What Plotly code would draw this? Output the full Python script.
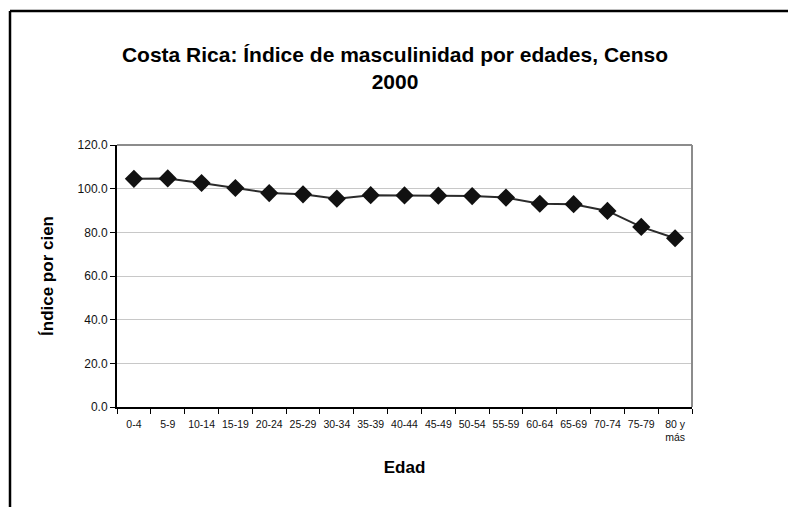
import plotly.graph_objects as go

# Age groups and sex ratio (men per 100 women), Census 2000
edades = ["0-4", "5-9", "10-14", "15-19", "20-24", "25-29", "30-34", "35-39",
          "40-44", "45-49", "50-54", "55-59", "60-64", "65-69", "70-74",
          "75-79", "80 y<br>más"]
indice = [104.5, 104.7, 102.6, 100.3, 98.0, 97.4, 95.4, 97.0,
          96.9, 96.8, 96.6, 95.9, 93.1, 92.9, 89.8, 82.5, 77.3]
y_ticks = [0, 20, 40, 60, 80, 100, 120]

W, H = 788, 507
L, R, T, B = 117, 96, 145, 100
pw, ph = W - L - R, H - T - B

def px(x):
    return (x - L) / pw

def py(y):
    return (H - B - y) / ph

fig = go.Figure()
fig.add_trace(go.Scatter(
    x=edades, y=indice, mode="lines+markers",
    line=dict(color="#2b2b2b", width=2),
    marker=dict(symbol="diamond", size=14, color="#111111",
                line=dict(color="#111111", width=0)),
    hoverinfo="x+y", showlegend=False,
))

font = "Liberation Sans, Arial, sans-serif"
fig.update_layout(
    width=W, height=H,
    margin=dict(l=L, r=R, t=T, b=B),
    paper_bgcolor="white", plot_bgcolor="white",
    font=dict(family=font, color="black"),
    title=dict(
        text="<b>Costa Rica: Índice de masculinidad por edades, Censo<br>2000</b>",
        x=395 / W, xanchor="center", y=1 - 62 / H, yanchor="top",
        font=dict(size=21, family=font, color="black"),
    ),
    xaxis=dict(
        type="category", tickson="boundaries", ticks="outside", ticklen=5,
        tickwidth=1, tickcolor="black", tickangle=0, ticklabelstandoff=6,
        showline=True, linecolor="black", linewidth=2,
        showgrid=False, tickfont=dict(size=10.5, color="#111111"),
        title=dict(text="<b>Edad</b>", font=dict(size=17), standoff=19),
        range=[-0.5, len(edades) - 0.5],
    ),
    yaxis=dict(
        range=[0, 120], tickvals=y_ticks,
        ticktext=[f"{v:.1f}" for v in y_ticks],
        ticks="outside", ticklen=5, tickcolor="black",
        showline=True, linecolor="black", linewidth=2,
        showgrid=True, gridcolor="#c8c8c8", gridwidth=1,
        zeroline=False, tickfont=dict(size=12, color="#111111"),
        title=dict(text="<b>Índice por cien</b>", font=dict(size=17), standoff=20),
    ),
)

# Gray top and right edges of the plotting area
fig.add_shape(type="line", xref="paper", yref="paper", x0=0, x1=1, y0=1, y1=1,
              line=dict(color="#8c8c8c", width=2))
fig.add_shape(type="line", xref="paper", yref="paper", x0=1, x1=1, y0=0, y1=1,
              line=dict(color="#8c8c8c", width=2))

# Outer chart frame (runs past the right and bottom edges of the page)
fig.add_shape(type="line", xref="paper", yref="paper",
              x0=px(10), x1=px(810), y0=py(11), y1=py(11),
              line=dict(color="black", width=2.5))
fig.add_shape(type="line", xref="paper", yref="paper",
              x0=px(10), x1=px(10), y0=py(11), y1=py(540),
              line=dict(color="black", width=2.5))

fig.write_html("out.html")
